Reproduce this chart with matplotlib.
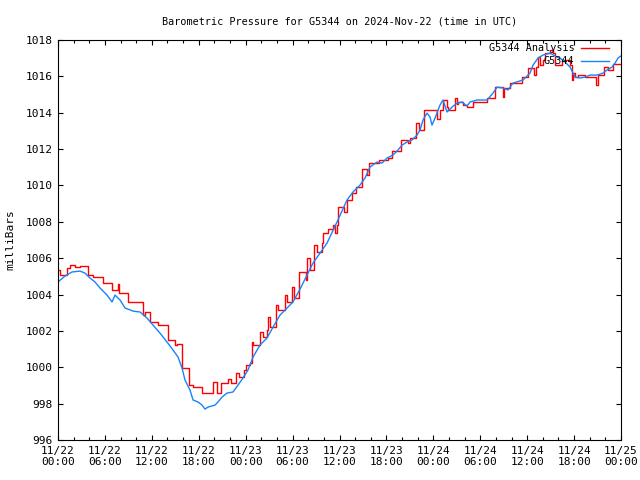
#!/usr/bin/env python3
"""G5344 の気圧グラフ (gnuplot 風) を再現する"""

import numpy as np
import matplotlib
matplotlib.use("Agg")
import matplotlib.pyplot as plt
from matplotlib.ticker import MultipleLocator

# 解析値 (時間は 11/22 00:00 UTC からの経過時間 [h])
analysis_hours = [
    0.00, 0.26, 1.15, 1.53, 2.17, 2.81, 3.84, 4.48, 5.76, 6.91, 7.67, 7.80,
    8.95, 10.87, 11.13, 11.77, 12.79, 14.07, 14.96, 15.22, 15.86, 16.75,
    17.27, 18.42, 19.82, 20.33, 20.85, 21.74, 22.13, 22.76, 23.15, 23.79,
    24.04, 24.56, 24.81, 24.94, 25.83, 26.22, 26.73, 26.86, 27.11, 27.88,
    28.14, 29.03, 29.29, 29.93, 30.18, 30.82, 31.72, 31.85, 32.23, 32.74,
    33.12, 33.76, 33.89, 34.53, 35.17, 35.43, 35.68, 35.81, 36.58, 36.96,
    37.60, 38.11, 38.88, 39.52, 39.77, 41.05, 42.20, 42.72, 43.87, 44.76,
    45.02, 45.79, 46.17, 46.81, 48.47, 48.85, 49.24, 49.75, 49.88, 50.77,
    51.03, 51.16, 51.80, 52.31, 53.08, 54.87, 55.89, 56.91, 57.04, 57.83,
    59.34, 60.11, 60.88, 61.13, 61.39, 61.64, 62.03, 62.28, 62.92, 63.31,
    63.56, 64.46, 65.48, 65.74, 65.87, 66.12, 66.50, 67.40, 68.81, 69.06,
    69.83, 70.34, 70.98, 71.88,
]
analysis_mb = [
    1005.35, 1005.08, 1005.46, 1005.62, 1005.51, 1005.57, 1005.08, 1004.96,
    1004.63, 1004.25, 1004.58, 1004.08, 1003.59, 1002.87, 1003.04, 1002.49,
    1002.32, 1001.50, 1001.22, 1001.28, 999.96, 999.02, 998.91, 998.58,
    999.19, 998.58, 999.13, 999.35, 999.13, 999.68, 999.46, 999.85, 1000.12,
    1000.23, 1001.39, 1001.22, 1001.94, 1001.66, 1002.05, 1002.76, 1002.21,
    1003.42, 1003.15, 1003.97, 1003.59, 1004.41, 1003.81, 1005.24, 1004.80,
    1006.01, 1005.35, 1006.72, 1006.34, 1006.83, 1007.38, 1007.60, 1007.82,
    1007.38, 1007.82, 1008.81, 1008.54, 1009.20, 1009.58, 1009.91, 1010.90,
    1010.57, 1011.23, 1011.40, 1011.51, 1011.89, 1012.50, 1012.33, 1012.61,
    1013.43, 1013.05, 1014.15, 1013.65, 1014.15, 1014.70, 1014.31, 1014.15,
    1014.81, 1014.48, 1014.59, 1014.42, 1014.31, 1014.59, 1014.81, 1015.41,
    1014.86, 1015.36, 1015.63, 1015.96, 1016.46, 1016.07, 1016.51, 1017.06,
    1016.62, 1016.90, 1017.28, 1017.45, 1017.28, 1016.62, 1016.90, 1016.62,
    1015.80, 1016.18, 1015.96, 1016.07, 1015.96, 1015.52, 1016.07, 1016.51,
    1016.35, 1016.68, 1016.68,
]

# 観測値
station_hours = [
    0.00, 0.90, 1.79, 2.81, 3.45, 4.09, 4.73, 5.37, 6.27, 6.91, 7.29, 7.93,
    8.57, 9.59, 10.49, 11.38, 12.15, 13.04, 13.94, 14.71, 15.35, 15.86,
    16.24, 16.88, 17.27, 17.91, 18.42, 18.80, 19.18, 20.08, 20.46, 20.97,
    21.61, 22.38, 23.02, 23.66, 24.30, 24.94, 25.83, 26.73, 27.50, 28.39,
    29.29, 30.05, 30.95, 31.85, 32.61, 33.25, 34.40, 35.68, 36.96, 37.73,
    38.63, 39.26, 39.90, 40.80, 41.44, 42.08, 42.84, 43.48, 44.00, 44.63,
    45.27, 45.91, 46.30, 46.68, 47.19, 47.58, 47.83, 48.22, 48.85, 49.24,
    49.75, 50.39, 51.03, 51.67, 52.31, 52.69, 53.59, 54.87, 55.63, 56.15,
    56.91, 57.55, 58.19, 59.47, 60.36, 60.75, 61.39, 62.03, 62.92, 63.82,
    64.59, 65.48, 66.12, 66.76, 67.40, 68.04, 68.94, 69.70, 70.21, 70.85,
    71.24, 71.62, 72.00,
]
station_mb = [
    1004.69, 1005.02, 1005.24, 1005.29, 1005.18, 1004.91, 1004.69, 1004.36,
    1003.97, 1003.59, 1003.97, 1003.70, 1003.26, 1003.09, 1003.04, 1002.71,
    1002.32, 1001.88, 1001.39, 1000.95, 1000.56, 999.96, 999.30, 998.75,
    998.20, 998.09, 997.92, 997.70, 997.81, 997.92, 998.09, 998.36, 998.58,
    998.64, 999.02, 999.41, 999.85, 1000.56, 1001.22, 1001.61, 1002.21,
    1002.87, 1003.26, 1003.59, 1004.30, 1005.07, 1005.73, 1006.12, 1006.83,
    1007.99, 1009.20, 1009.64, 1010.02, 1010.41, 1011.01, 1011.29, 1011.23,
    1011.51, 1011.67, 1011.95, 1012.22, 1012.39, 1012.50, 1012.77, 1013.05,
    1013.60, 1013.98, 1013.76, 1013.32, 1013.71, 1014.42, 1014.70, 1014.04,
    1014.31, 1014.53, 1014.59, 1014.37, 1014.59, 1014.70, 1014.70, 1015.08,
    1015.41, 1015.36, 1015.25, 1015.63, 1015.80, 1016.18, 1016.62, 1017.01,
    1017.17, 1017.28, 1017.06, 1016.90, 1016.51, 1015.96, 1015.91, 1015.96,
    1016.07, 1016.07, 1016.18, 1016.35, 1016.51, 1016.73, 1017.01, 1017.12,
]

tick_hours = [0, 6, 12, 18, 24, 30, 36, 42, 48, 54, 60, 66, 72]
tick_labels = [
    "11/22\n00:00", "11/22\n06:00", "11/22\n12:00", "11/22\n18:00",
    "11/23\n00:00", "11/23\n06:00", "11/23\n12:00", "11/23\n18:00",
    "11/24\n00:00", "11/24\n06:00", "11/24\n12:00", "11/24\n18:00",
    "11/25\n00:00",
]

plt.rcParams["font.family"] = ["DejaVu Sans Mono"]
plt.rcParams["font.size"] = 8

fig = plt.figure(figsize=(6.4, 4.8), dpi=100)
ax = fig.add_axes([58 / 640, 40 / 480, (621 - 58) / 640, 400 / 480])

ax.plot(analysis_hours, analysis_mb, color="#ff0000", lw=1.0,
        drawstyle="steps-post", label="G5344 Analysis")
ax.plot(station_hours, station_mb, color="#1584ff", lw=1.0,
        label="G5344")

ax.set_xlim(0, 72)
ax.set_ylim(996, 1018)
ax.set_xticks(tick_hours)
ax.set_xticklabels(tick_labels)
ax.xaxis.set_minor_locator(MultipleLocator(2))
ax.yaxis.set_major_locator(MultipleLocator(2))

ax.tick_params(which="both", direction="in", top=True, right=True, width=0.8)
ax.tick_params(which="major", length=3.6, pad=4)
ax.tick_params(which="minor", length=2.2)
for sp in ax.spines.values():
    sp.set_linewidth(0.8)

ax.set_title("Barometric Pressure for G5344 on 2024-Nov-22 (time in UTC)",
             fontsize=7.3, pad=11.5)
fig.text(10 / 640, 0.5, "milliBars", rotation=90, va="center", ha="center")

# 凡例は枠なし・右寄せ (gnuplot 風)
ax.legend(loc="upper right", bbox_to_anchor=(1 - 5 / 563, 1 + 4 / 400),
          frameon=False, markerfirst=False,
          handlelength=2.8, handletextpad=0.6, labelspacing=0.3,
          borderaxespad=0.3, fontsize=7.3)

fig.savefig("out.png", dpi=100)
